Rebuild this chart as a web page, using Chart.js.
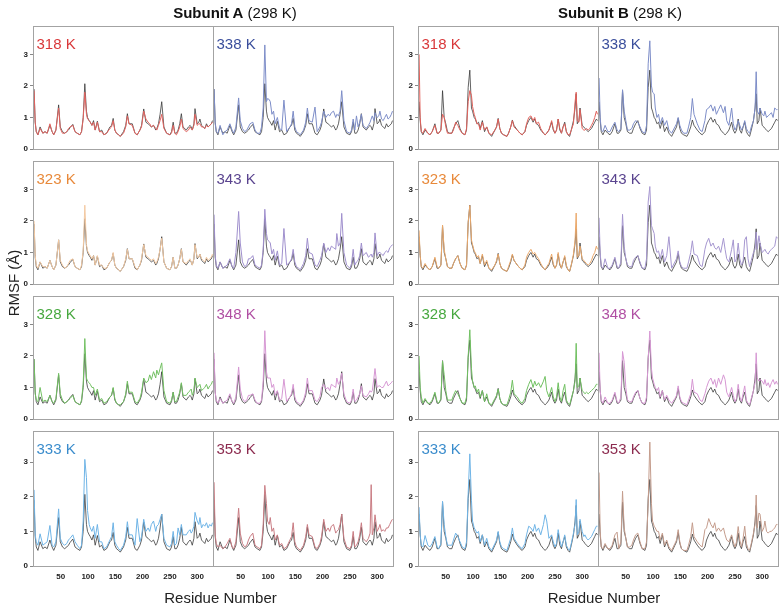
<!DOCTYPE html>
<html><head><meta charset="utf-8">
<script src="https://cdn.jsdelivr.net/npm/chart.js@4.4.0/dist/chart.umd.min.js"></script>
<style>
body{margin:0;background:#fff;}
#wrap{position:relative;width:781px;height:607px;overflow:hidden;font-family:"Liberation Sans",Arial,sans-serif;background:#fff;}
#wrap canvas{position:absolute;}
.t{position:absolute;white-space:nowrap;line-height:15px;font-size:15px;}
</style></head><body><div id="wrap"></div>
<script>
// ---------- DATA ----------
const temps = ['318 K','323 K','328 K','333 K','338 K','343 K','348 K','353 K'];
const subunits = ['Subunit A','Subunit B'];
const refTemp = '(298 K)';
const yTicks = [0,1,2,3];
const xTicks = [50,100,150,200,250,300];

const residuesA = [1,3,5,8,12, 17,21,25,30,34, 37,41,46,49,53, 57,61,64,67,72, 76,80,85,88,91, 94,97,99,102,104, 107,110,113,117,121, 125,129,134,140,143, 146,149,152,156,159, 165,169,172,175,181, 186,190,195,198,202, 206,210,213,216,220, 224,226,229,232,235, 239,244,250,253,256, 259,262,265,268,271, 274,280,284,287,289, 291,294,296,300,303, 305,308,311,314,317, 320,323,326,328];

const refA = [1.9,0.85,0.55,0.45,0.7, 0.5,0.55,0.5,0.75,0.55, 0.45,0.6,1.4,0.7,0.55, 0.5,0.55,0.6,0.68,0.78, 0.55,0.5,0.45,0.55,1.0, 2.07,1.2,1.0,0.9,0.85, 0.75,0.9,0.6,0.88,0.55, 0.6,0.45,0.5,0.7,0.75, 0.97,0.6,0.5,0.45,0.4, 0.55,0.75,1.12,0.8,0.8, 0.5,0.45,0.6,0.75,1.27, 0.85,0.8,0.75,0.7,0.75, 0.6,0.65,0.8,1.1,1.5, 0.7,0.5,0.45,0.55,0.85, 0.5,0.5,0.6,0.8,1.12, 0.7,0.6,0.7,0.75,0.7, 0.6,0.8,1.28,0.8,0.85, 0.95,0.75,0.7,0.65,0.8, 0.7,0.75,0.8,0.9];
const a318 = [1.85,0.85,0.55,0.45,0.65, 0.5,0.55,0.5,0.8,0.55, 0.45,0.6,1.3,0.65,0.5, 0.5,0.55,0.65,0.7,0.75, 0.55,0.5,0.45,0.55,0.95, 1.8,1.1,0.95,0.9,0.85, 0.75,0.85,0.6,0.85,0.55, 0.55,0.45,0.5,0.65,0.7, 0.9,0.6,0.5,0.45,0.4, 0.5,0.7,1.05,0.8,0.75, 0.5,0.45,0.6,0.7,1.2, 0.95,0.85,0.8,0.7,0.75, 0.65,0.6,0.75,0.9,1.1, 0.65,0.5,0.45,0.5,0.75, 0.5,0.45,0.55,0.7,0.95, 0.65,0.55,0.6,0.7,0.65, 0.6,0.75,1.1,0.75,0.8, 0.8,0.7,0.7,0.65,0.75, 0.7,0.75,0.8,0.85];
const a323 = [2.0,0.9,0.6,0.5,0.7, 0.55,0.55,0.5,0.75,0.55, 0.45,0.6,1.4,0.75,0.6, 0.5,0.55,0.65,0.75,0.8, 0.55,0.5,0.45,0.6,1.05, 2.5,1.25,1.05,0.95,0.9, 0.8,0.9,0.6,0.9,0.6, 0.6,0.5,0.5,0.7,0.75, 1.0,0.6,0.5,0.45,0.4, 0.55,0.8,1.1,0.8,0.8, 0.55,0.45,0.6,0.8,1.25, 0.9,0.85,0.8,0.75,0.8, 0.65,0.7,0.85,1.1,1.45, 0.7,0.5,0.45,0.55,0.85, 0.5,0.5,0.6,0.8,1.1, 0.7,0.65,0.75,0.8,0.7, 0.6,0.8,1.25,0.85,0.85, 0.95,0.8,0.75,0.7,0.85, 0.75,0.8,0.85,0.95];
const a328 = [1.9,0.8,0.6,0.55,1.0, 0.55,0.6,0.55,0.75,0.55, 0.5,0.65,1.45,0.8,0.6, 0.5,0.55,0.6,0.65,0.75, 0.55,0.5,0.45,0.6,1.1, 2.55,1.3,1.2,1.15,1.1, 1.0,1.0,0.75,0.95,0.6, 0.65,0.5,0.55,0.7,0.75, 1.0,0.65,0.5,0.45,0.45, 0.55,0.8,1.2,0.85,0.85, 0.55,0.5,0.65,0.85,1.3, 1.15,1.2,1.4,1.25,1.5, 1.3,1.55,1.4,1.6,1.78, 0.9,0.55,0.5,0.6,0.85, 0.55,0.55,0.7,0.85,1.15, 0.75,0.75,0.85,0.9,0.95, 0.75,0.9,1.3,1.0,1.05, 1.1,0.9,0.95,1.0,1.1, 0.95,1.05,1.1,1.2];
const a333 = [2.2,0.9,0.7,0.6,0.93, 0.6,0.65,0.7,1.17,0.6, 0.55,0.7,1.65,0.8,0.65, 0.6,0.65,0.75,0.8,0.9, 0.7,0.6,0.5,0.6,1.3, 3.08,2.55,1.6,1.2,1.1, 1.0,1.15,0.8,1.2,0.7, 0.7,0.5,0.55,0.75,0.85, 1.25,0.7,0.6,0.5,0.45, 0.6,0.85,1.28,0.9,0.9, 0.6,1.37,0.7,0.85,1.35, 1.0,1.1,1.0,1.2,1.3, 1.0,1.15,1.2,1.35,1.5, 0.8,0.6,0.55,0.65,1.0, 0.6,0.65,1.1,0.9,1.2, 0.9,0.9,1.0,1.05,0.95, 1.0,1.15,1.55,1.3,1.2, 1.4,1.1,1.2,1.15,1.25, 1.1,1.2,1.15,1.25];
const a338 = [1.9,0.8,0.55,0.5,0.75, 0.45,0.55,0.6,0.8,0.6, 0.5,0.7,1.62,0.9,0.65, 0.55,0.6,0.7,0.8,0.85, 0.6,0.5,0.5,0.7,1.3, 3.3,1.5,1.6,1.57,1.5, 1.1,1.2,0.8,1.0,0.65, 0.6,1.55,0.55,0.7,0.8, 1.2,0.7,0.55,0.5,0.45, 0.6,0.85,1.3,0.9,0.85, 1.33,0.55,0.7,0.85,1.2, 1.0,1.1,1.05,1.15,1.2, 1.0,1.1,1.05,1.2,1.85, 0.9,0.55,0.5,0.6,0.95, 0.6,1.05,0.7,0.85,1.1, 0.75,0.65,0.75,0.85,0.95, 1.05,0.9,1.15,1.0,1.05, 1.2,0.95,0.9,1.0,1.1, 0.95,1.0,1.1,1.2];
const a343 = [2.2,0.9,0.6,0.5,0.7, 0.5,0.55,0.6,0.8,0.55, 0.5,1.0,2.3,1.3,0.7, 0.55,0.6,0.8,0.8,0.9, 0.6,0.55,0.5,0.6,1.1, 2.37,1.6,1.4,1.35,1.3, 0.95,1.1,0.75,1.05,0.6, 0.65,1.76,0.6,0.7,0.8, 1.1,0.7,0.55,0.5,0.45, 0.65,0.9,1.45,1.0,0.95, 0.6,0.55,0.75,0.9,1.3, 1.0,1.15,1.05,1.2,1.15, 1.1,1.6,1.2,1.3,2.24, 1.0,0.6,0.5,0.65,1.1, 0.6,0.7,0.75,0.9,1.3, 0.9,1.0,0.85,0.9,0.95, 0.85,1.0,1.62,0.9,1.0, 1.0,0.95,0.9,1.0,1.05, 1.0,1.15,1.2,1.25];
const a348 = [2.1,0.85,0.6,0.5,0.65, 0.5,0.55,0.6,0.8,0.55, 0.5,0.7,1.65,0.95,0.65, 0.55,0.6,0.75,0.75,0.8, 0.6,0.5,0.5,0.6,1.2, 2.8,1.5,1.3,1.3,1.3, 1.0,1.1,0.75,0.9,0.6, 0.65,1.26,0.55,0.7,0.8, 1.1,0.7,0.55,0.5,0.45, 0.6,0.85,1.3,0.9,0.9, 0.6,0.55,0.7,1.0,1.1, 0.95,1.0,0.9,1.1,1.05, 1.0,1.3,1.1,1.2,1.45, 0.8,0.55,0.5,0.6,0.95, 0.55,0.6,0.7,0.8,1.05, 0.75,0.7,0.8,0.9,0.85, 0.9,1.3,1.6,1.0,1.05, 1.05,1.0,1.0,1.1,1.2, 1.05,1.1,1.15,1.2];
const a353 = [2.42,0.9,0.65,0.55,0.6, 0.5,0.55,0.65,0.8,0.55, 0.5,0.7,1.67,0.95,0.65, 0.55,0.6,0.75,0.85,0.95, 0.6,0.55,0.5,0.6,1.2, 2.33,1.8,1.3,1.2,1.4, 1.0,1.1,0.75,0.9,0.6, 0.65,0.5,0.55,0.75,0.85, 1.25,0.7,0.55,0.5,0.45, 0.6,0.85,1.2,0.9,0.85, 0.55,0.5,0.65,0.85,1.35, 1.0,1.1,1.0,1.15,1.2, 0.95,1.0,1.05,1.2,1.5, 0.8,0.55,0.5,0.6,1.0, 0.55,0.6,0.7,0.9,1.25, 0.8,0.7,0.8,0.95,2.35, 0.9,1.1,1.48,1.0,1.1, 1.2,1.0,1.05,1.0,1.1, 1.1,1.2,1.3,1.35];

const residuesB = [1,3,5,8,12, 17,21,25,30,34, 37,41,44,47,50, 53,57,61,64,68, 72,76,80,85,88, 91,94,97,99,102, 104,107,110,113,117, 121,125,129,134,140, 143,146,149,152,156, 162,165,169,172,175, 181,186,190,195,198, 202,206,210,213,216, 220,224,229,232,235, 239,244,247,250,253, 256,259,262,265,268, 271,274,277,280,284, 287,289,291,294,296, 300,303,305,308,311, 314,317,320,323,326, 328];

const refB = [1.5,0.9,0.55,0.45,0.6, 0.5,0.45,0.55,0.8,0.5, 0.5,0.6,1.85,1.0,0.8, 0.55,0.5,0.5,0.65,0.8, 0.9,0.65,0.5,0.45,0.6, 1.95,2.5,1.3,1.2,1.0, 0.95,0.8,0.85,0.65,0.9, 0.55,0.7,0.5,0.4,0.6, 0.7,0.97,0.65,0.5,0.45, 0.4,0.5,0.7,0.92,0.75, 0.6,0.5,0.45,0.55,0.75, 0.9,1.0,0.85,0.95,0.8, 0.75,0.6,0.5,0.45,0.5, 0.6,0.85,0.6,0.5,0.6, 0.95,0.6,0.5,0.7,0.85, 0.55,0.45,0.4,0.6,0.9, 1.3,1.75,0.8,0.9,1.3, 0.75,0.7,0.65,0.6,0.55, 0.6,0.65,0.75,0.85,0.95, 0.9];
const b318 = [3.0,1.0,0.55,0.5,0.65, 0.5,0.45,0.55,0.75,0.5, 0.5,0.6,1.1,1.0,0.7, 0.5,0.5,0.5,0.6,0.85, 0.75,0.6,0.5,0.45,0.65, 1.5,1.85,1.7,1.35,1.1, 1.0,0.8,0.8,0.6,0.85, 0.6,0.7,0.5,0.45,0.6, 0.7,0.95,0.65,0.5,0.45, 0.4,0.5,0.7,0.9,0.7, 0.6,0.5,0.45,0.55,0.8, 1.0,1.05,0.9,1.0,0.8, 0.85,0.65,0.5,0.45,0.5, 0.6,0.9,0.65,0.5,0.6, 0.95,0.65,0.5,0.7,0.8, 0.55,0.45,0.45,0.6,0.8, 1.5,1.8,0.9,0.85,1.25, 0.65,0.6,0.6,0.65,0.6, 0.65,0.75,0.85,1.0,1.2, 1.1];
const b323 = [1.7,0.9,0.55,0.5,0.65, 0.5,0.45,0.55,0.85,0.55, 0.5,0.6,1.87,1.1,0.8, 0.55,0.5,0.5,0.65,0.8, 0.9,0.65,0.5,0.45,0.6, 1.95,2.49,1.4,1.25,1.05, 1.0,0.85,0.9,0.65,0.95, 0.6,0.75,0.5,0.45,0.6, 0.75,0.95,0.65,0.5,0.45, 0.4,0.55,0.75,0.95,0.75, 0.6,0.5,0.45,0.6,0.85, 1.0,1.1,0.95,1.0,0.9, 0.8,0.65,0.5,0.45,0.55, 0.65,0.95,0.65,0.5,0.6, 1.0,0.65,0.5,0.7,0.9, 0.6,0.45,0.4,0.6,0.95, 1.4,2.25,0.85,0.9,1.2, 0.8,0.75,0.7,0.65,0.6, 0.65,0.75,0.9,1.0,1.2, 1.1];
const b328 = [2.0,1.0,0.7,0.5,0.65, 0.5,0.5,0.6,0.85,0.55, 0.5,0.65,1.84,1.4,0.9, 0.6,0.6,0.6,0.75,0.9, 0.8,0.65,0.5,0.5,0.7, 2.0,2.83,1.6,1.2,1.0, 1.05,0.85,0.95,0.7,0.9, 0.55,0.8,0.5,0.45,0.65, 0.75,0.95,0.65,0.5,0.45, 0.45,0.6,0.85,1.23,0.8, 0.7,0.55,0.5,0.65,0.9, 1.1,1.25,1.0,1.2,1.05, 1.15,1.0,1.2,1.35,0.9, 0.7,1.0,0.7,0.55,0.7, 1.15,0.7,0.55,0.9,1.1, 0.6,0.5,0.45,0.65,0.9, 1.2,2.4,1.0,1.05,1.3, 0.9,0.85,0.8,0.85,0.8, 0.85,0.9,0.95,1.0,1.1, 1.1];
const b333 = [1.7,0.9,0.6,0.55,0.88, 0.6,0.55,0.65,0.85,0.55, 0.5,0.65,1.87,1.2,0.85, 0.6,0.6,0.6,0.75,0.95, 0.85,0.7,0.55,0.5,0.7, 2.1,3.24,1.9,1.3,1.1, 1.05,0.95,1.0,0.7,0.9, 0.6,0.8,0.55,0.45,0.65, 0.75,1.0,0.7,0.55,0.5, 0.45,0.6,0.8,1.1,0.8, 0.65,0.55,0.5,0.65,0.9, 1.15,1.1,1.0,1.2,1.0, 1.1,0.9,1.2,1.48,1.3, 0.8,0.9,0.7,0.55,0.65, 1.05,0.75,0.55,0.7,0.9, 0.6,0.5,0.45,0.65,0.95, 1.2,1.92,0.9,1.0,1.35, 1.0,0.85,0.9,0.8,0.75, 0.8,0.85,0.95,1.05,1.15, 1.15];
const b338 = [2.25,1.0,0.6,0.55,0.75, 0.55,0.55,0.7,0.85,0.6, 0.55,0.65,1.88,1.2,0.9, 0.6,0.6,0.65,0.8,0.9, 0.85,0.7,0.55,0.5,0.75, 2.7,3.43,2.0,1.8,1.75, 1.3,1.0,1.1,0.8,1.0, 0.75,0.9,0.6,0.5,0.7, 0.8,1.0,0.75,0.6,0.5, 0.5,0.7,1.0,1.6,1.1, 0.8,0.6,0.55,0.9,1.25, 1.3,1.4,1.2,1.35,1.1, 1.25,1.4,1.15,1.35,0.9, 0.75,1.3,0.8,0.6,0.7, 0.9,0.75,0.6,0.7,0.9, 0.65,0.55,0.5,0.7,0.9, 1.3,2.45,1.2,1.1,1.3, 1.1,1.05,1.2,1.0,1.05, 1.1,1.15,1.0,1.3,1.25, 1.25];
const b343 = [2.1,1.0,0.55,0.5,0.8, 0.5,0.5,0.6,0.85,0.55, 0.5,0.7,2.21,1.2,0.8, 0.6,0.55,0.55,0.75,0.85, 0.9,0.7,0.5,0.5,0.8, 2.6,3.09,1.85,1.75,1.6, 1.2,1.0,1.05,0.8,1.1, 0.7,0.9,1.5,0.5,0.7, 0.8,1.05,0.7,0.55,0.5, 0.5,0.7,1.0,1.37,0.95, 0.9,0.6,0.55,1.1,1.3, 1.45,1.2,1.3,1.15,1.1, 1.2,1.0,1.45,1.1,0.8, 0.7,1.1,1.4,0.7,0.8, 1.3,0.8,0.6,0.7,1.4, 1.5,0.8,0.55,0.75,1.0, 1.1,1.65,1.1,1.53,1.3, 1.0,1.05,1.1,1.0,0.95, 1.05,1.1,1.15,1.2,1.5, 1.45];
const b348 = [2.1,0.9,0.6,0.5,0.7, 0.5,0.5,0.6,0.85,0.55, 0.5,0.7,2.14,1.8,1.0, 0.6,0.55,0.55,0.7,0.85, 0.9,0.65,0.5,0.5,0.7, 1.9,2.79,1.6,1.3,1.1, 1.0,0.9,1.0,0.7,0.9, 0.6,0.75,0.6,0.5,0.65, 0.75,1.05,0.7,0.55,0.5, 0.45,0.6,0.8,1.26,0.85, 0.8,0.6,0.55,0.8,1.0, 1.2,1.3,1.1,1.25,1.0, 1.3,1.1,1.4,1.25,0.85, 0.7,1.0,0.75,0.55,0.65, 1.1,0.7,0.55,0.8,1.05, 0.6,0.5,0.45,0.65,0.9, 1.15,2.1,1.3,1.2,1.25, 1.2,1.1,1.25,1.05,1.15, 1.0,1.15,1.25,1.1,1.2, 1.1];
const b353 = [2.7,1.0,0.55,0.5,0.65, 0.5,0.5,0.6,0.9,0.98, 0.5,0.7,2.16,1.1,0.8, 0.55,0.55,0.6,0.75,0.9, 0.95,0.7,0.5,0.5,0.7, 1.8,3.58,1.8,1.3,1.15, 1.1,1.0,1.0,0.75,0.95, 0.6,0.75,0.55,0.45,0.65, 0.75,1.05,0.7,0.5,0.45, 0.45,0.6,0.85,1.25,0.85, 0.7,0.6,0.55,1.05,1.1, 1.37,1.2,1.1,1.25,1.0, 1.1,1.0,1.1,0.9,0.75, 0.7,0.9,0.7,0.55,0.7, 1.14,0.75,0.55,0.8,1.15, 0.65,0.5,0.45,0.65,0.95, 1.2,2.05,1.1,1.53,1.5, 1.0,1.1,1.3,1.0,0.95, 1.0,1.0,1.05,1.1,1.2, 1.2];

const seriesA = [a318,a323,a328,a333,a338,a343,a348,a353];
const seriesB = [b318,b323,b328,b333,b338,b343,b348,b353];

// ---------- STYLE ----------
const lineColors = [
  ['#e2625e','#f3c9a2','#72c062','#6fb4e6','#7d8dc8','#9f8fcd','#d697d3','#c97c83'],
  ['#e2605a','#eaa86a','#70c061','#6fb4e6','#7d8dc8','#a697d0','#d697d3','#c49c8c']
];
const labelColors = ['#d9383a','#e8893a','#47a83f','#3a8ccc','#3a4e9c','#5a448f','#b04fa3','#8c2b4f'];
const blockLeft = [33,418], colW = 180, rowTop = [26,161,296,431], rowH = 135;

Chart.defaults.font.family = '"Liberation Sans", Arial, sans-serif';
const wrap = document.getElementById('wrap');

const frame = {
  id: 'frame',
  afterDatasetsDraw(chart) {
    const a = chart.chartArea, ctx = chart.ctx;
    ctx.save();
    ctx.strokeStyle = '#a3a3a3';
    ctx.lineWidth = 1;
    ctx.strokeRect(Math.round(a.left) + 0.5, Math.round(a.top) + 0.5, Math.round(a.right - a.left), Math.round(a.bottom - a.top));
    ctx.restore();
  }
};

function addText(txt, x, y, css, html) {
  const d = document.createElement('div');
  d.className = 't';
  if (html) d.innerHTML = txt; else d.textContent = txt;
  d.style.left = x + 'px';
  d.style.top = y + 'px';
  Object.assign(d.style, css || {});
  wrap.appendChild(d);
  return d;
}

function makePanel(sub, i) {
  const col = i < 4 ? 0 : 1, row = i % 4;
  const pl = blockLeft[sub] + col * colW, pt = rowTop[row];
  const bottomRow = row === 3;
  const padT = 12, padB = bottomRow ? 26 : 12, padL = 30, padR = 6;
  const cv = document.createElement('canvas');
  cv.width = padL + colW + padR; cv.height = padT + rowH + padB;
  cv.style.left = (pl - padL) + 'px'; cv.style.top = (pt - padT) + 'px';
  cv.style.width = cv.width + 'px'; cv.style.height = cv.height + 'px';
  wrap.appendChild(cv);
  const res = sub === 0 ? residuesA : residuesB;
  const ref = sub === 0 ? refA : refB;
  const vals = (sub === 0 ? seriesA : seriesB)[i];
  new Chart(cv, {
    type: 'line',
    data: { datasets: [
      { data: res.map((r, k) => ({x: r, y: vals[k]})), borderColor: lineColors[sub][i], borderWidth: 1, pointRadius: 0, tension: 0 },
      { data: res.map((r, k) => ({x: r, y: ref[k]})), borderColor: 'rgba(50,50,50,0.85)', borderWidth: 0.9, pointRadius: 0, tension: 0 }
    ]},
    options: {
      responsive: false, animation: false, devicePixelRatio: 1,
      layout: { padding: { left: 0, right: padR, top: padT, bottom: bottomRow ? 0 : padB } },
      plugins: { legend: { display: false }, tooltip: { enabled: false } },
      scales: {
        x: {
          type: 'linear', min: -1, max: 329, display: bottomRow,
          afterBuildTicks: s => { s.ticks = xTicks.map(v => ({value: v})); },
          afterFit: s => { s.height = padB; },
          grid: { display: false, drawTicks: false }, border: { display: false },
          ticks: { padding: 6, autoSkip: false, maxRotation: 0, color: '#222', font: { size: 8, weight: 'bold' } }
        },
        y: {
          min: 0, max: 3.9,
          afterBuildTicks: s => { s.ticks = yTicks.map(v => ({value: v})); },
          afterFit: s => { s.width = padL; },
          grid: { display: col === 0, drawOnChartArea: false, tickLength: 3, color: '#888' },
          border: { display: false },
          ticks: { display: col === 0, padding: 2, color: '#222', font: { size: 8, weight: 'bold' } }
        }
      }
    },
    plugins: [frame]
  });
  addText(temps[i], pl + 3.5, pt + 10, { color: labelColors[i] });
}

for (let s = 0; s < 2; s++) for (let i = 0; i < 8; i++) makePanel(s, i);

// titles
const titleCenters = [235, 620];
for (let s = 0; s < 2; s++) {
  const d = addText('<b>' + subunits[s] + '</b> ' + refTemp, titleCenters[s], 5, { transform: 'translateX(-50%)', color: '#111' }, true);
}
const xTitleCenters = [220.5, 604];
for (let s = 0; s < 2; s++) addText('Residue Number', xTitleCenters[s], 590, { transform: 'translateX(-50%)', color: '#222' });
addText('RMSF (Å)', 12.5, 283, { transform: 'translate(-50%,-50%) rotate(-90deg)', color: '#222' });
</script></body></html>
